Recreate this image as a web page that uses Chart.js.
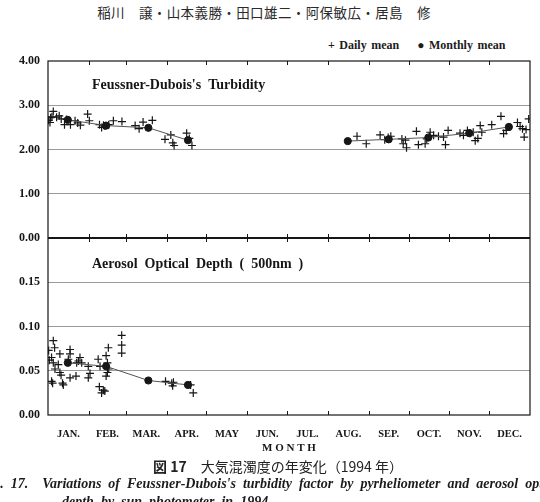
<!DOCTYPE html>
<html>
<head>
<meta charset="utf-8">
<script src="https://cdn.jsdelivr.net/npm/chart.js@4.4.0/dist/chart.umd.min.js"></script>
<style>
  body { margin: 0; width: 540px; height: 502px; overflow: hidden; background: #fff; position: relative; color: #1c1c1c; font-family: "Liberation Serif", serif; }
  .abs { position: absolute; white-space: nowrap; }
  #header { top: 2px; left: 0; width: 528px; text-align: center; font-family: "Noto Sans CJK JP", sans-serif; font-size: 13.5px; letter-spacing: 0.4px; color: #2a2a2a; }
  #legend { top: 38px; left: 328px; font-weight: bold; font-size: 12px; word-spacing: 1.5px; }
  #chart-box { top: 0; left: 0; width: 540px; height: 460px; }
  #caption { top: 456px; left: 8px; width: 540px; text-align: center; font-family: "Noto Sans CJK JP", sans-serif; font-size: 14px; color: #222; }
  #caption-en { top: 476px; left: -20px; font-style: italic; font-weight: bold; font-size: 14px; word-spacing: 3.5px; }
  #caption-en2 { top: 494px; left: 62px; font-style: italic; font-weight: bold; font-size: 14px; word-spacing: 3.5px; }
</style>
</head>
<body>
<div id="header" class="abs">稲川　譲・山本義勝・田口雄二・阿保敏広・居島　修</div>
<div id="legend" class="abs">+ Daily mean &nbsp;&nbsp; ● Monthly mean</div>
<div id="chart-box" class="abs"><canvas id="chart"></canvas></div>
<div id="caption" class="abs"><b>図 17</b>　大気混濁度の年変化（1994 年）</div>
<div id="caption-en" class="abs">Fig. 17.&nbsp; Variations of Feussner-Dubois's turbidity factor by pyrheliometer and aerosol optical</div>
<div id="caption-en2" class="abs">depth by sun photometer in 1994.</div>
<script>
// month names shown under the x axis
var months = ['JAN.', 'FEB.', 'MAR.', 'APR.', 'MAY', 'JUN.', 'JUL.', 'AUG.', 'SEP.', 'OCT.', 'NOV.', 'DEC.'];
// length of each month of 1994
var month_lengths = [31, 28, 31, 30, 31, 30, 31, 31, 30, 31, 30, 31];
// day of year of the monthly means
var month_mid_days = [15, 44, 76, 106, 135, 166, 196, 227, 258, 288, 319, 349];
// monthly mean of the turbidity factor (no data from May to July)
var turbidity_monthly = [2.67, 2.54, 2.49, 2.21, null, null, null, 2.19, 2.23, 2.27, 2.37, 2.51];
// monthly mean of the aerosol optical depth (500nm)
var aod_monthly = [0.059, 0.055, 0.039, 0.034, null, null, null, null, null, null, null, null];

// daily turbidity factor: day of year and value
var turbidity_days = [0.5, 1.5, 2, 3, 4, 6.5, 8.5, 10, 12.5, 14, 17, 20.5, 22.5, 24.5, 30, 31.3, 39, 40.6, 42, 43, 46, 49.5, 56,
    66, 69, 72, 79, 88.6, 93, 94.5, 95.5, 105, 107, 109,
    234, 241, 251.5, 255, 257.6, 259.6, 268, 269, 270.7, 271.5, 279, 280.5, 285.6, 286.8, 288.8, 289.4, 292, 295.7, 299.5, 301, 303,
    312, 314.6, 317.6, 319.7, 322, 323.5, 325.5, 327.3, 328.5, 336, 343, 345, 347, 355.5, 357.5, 359.3, 360.6, 362, 364];
var turbidity_daily = [2.66, 2.61, 2.72, 2.74, 2.86, 2.73, 2.76, 2.69, 2.56, 2.68, 2.56, 2.65, 2.60, 2.55, 2.80, 2.65, 2.56, 2.50, 2.55, 2.53, 2.56, 2.65, 2.63,
    2.54, 2.47, 2.62, 2.66, 2.23, 2.33, 2.15, 2.09, 2.37, 2.25, 2.09,
    2.30, 2.13, 2.33, 2.22, 2.27, 2.30, 2.24, 2.13, 2.21, 2.04, 2.41, 2.11, 2.13, 2.24, 2.30, 2.39, 2.32, 2.30, 2.28, 2.11, 2.43,
    2.37, 2.32, 2.43, 2.37, 2.39, 2.20, 2.25, 2.54, 2.39, 2.56, 2.75, 2.36, 2.43, 2.61, 2.52, 2.47, 2.28, 2.45, 2.69];

// daily aerosol optical depth: day of year and value
var aod_days = [0.5, 1, 2.7, 4, 5, 4, 5.3, 2.7, 3.5, 7.8, 9, 9, 9.9, 11, 11.6, 15.4, 16.7, 16.7, 16.7, 21.2, 21.7, 23, 24.2, 25.5,
    30.5, 31.8, 30.5, 38, 39.4, 38.9, 40.6, 41.9, 43, 44, 45, 45.7, 45, 44, 46, 55.8, 55.8, 55.8,
    89, 93.7, 94.4, 95, 108, 110];
var aod_daily = [0.073, 0.062, 0.065, 0.084, 0.076, 0.059, 0.052, 0.038, 0.036, 0.057, 0.069, 0.048, 0.045, 0.036, 0.034, 0.063, 0.074, 0.069, 0.042, 0.044, 0.059, 0.061, 0.065, 0.059,
    0.055, 0.047, 0.042, 0.063, 0.055, 0.032, 0.025, 0.028, 0.027, 0.067, 0.059, 0.076, 0.048, 0.044, 0.052, 0.090, 0.079, 0.070,
    0.038, 0.036, 0.033, 0.037, 0.034, 0.025];

// tick values of the two panels
var turbidity_ticks = [0, 1, 2, 3, 4];
var aod_ticks = [0, 0.05, 0.10, 0.15, 0.20];
// titles written inside the panels
var turbidity_title = "Feussner-Dubois's  Turbidity";
var aod_title = 'Aerosol  Optical  Depth  (  500nm  )';

// function that joins two arrays into {x, y} points
function toPoints(xs, ys) {
    var points = [];
    for (var i = 0; i < xs.length; i++) {
        points.push({ x: xs[i], y: ys[i] });
    }
    return points;
}

// get month boundaries (day of year) and the centre of each month
var month_starts = [0];
for (var i = 0; i < month_lengths.length; i++) {
    month_starts.push(month_starts[i] + month_lengths[i]);
}
var month_centres = [];
for (var j = 0; j < months.length; j++) {
    month_centres.push((month_starts[j] + month_starts[j + 1]) / 2);
}

var ink = '#161616';
var label_font = { family: 'Liberation Serif', weight: 'bold', size: 12 };

// plugin that draws the frame, the divider, the month ticks and the panel titles
var framePlugin = {
    id: 'frame',
    afterDatasetsDraw: function(chart) {
        var ctx = chart.ctx;
        var area = chart.chartArea;
        var mid = chart.scales.yTop.getPixelForValue(0);
        ctx.save();
        ctx.strokeStyle = ink;
        ctx.lineWidth = 1.2;
        ctx.strokeRect(area.left, area.top, area.right - area.left, area.bottom - area.top);
        ctx.lineWidth = 1.8;
        ctx.beginPath();
        ctx.moveTo(area.left, mid);
        ctx.lineTo(area.right, mid);
        ctx.stroke();
        // small inward ticks on month boundaries
        ctx.lineWidth = 1;
        for (var k = 1; k < month_starts.length - 1; k++) {
            var x = Math.round(chart.scales.x.getPixelForValue(month_starts[k])) + 0.5;
            ctx.beginPath();
            ctx.moveTo(x, area.top); ctx.lineTo(x, area.top + 4);
            ctx.moveTo(x, mid - 4); ctx.lineTo(x, mid + 4);
            ctx.moveTo(x, area.bottom - 4); ctx.lineTo(x, area.bottom);
            ctx.stroke();
        }
        // panel titles
        ctx.fillStyle = ink;
        ctx.font = 'bold 14px "Liberation Serif"';
        ctx.textBaseline = 'middle';
        ctx.fillText(turbidity_title, 92, area.top + 24);
        ctx.fillText(aod_title, 92, mid + 26);
        ctx.restore();
    }
};

// function that returns the dotted grid colour (panel edges are drawn by the frame)
function gridColor(max) {
    return function(c) {
        if (c.tick.value === 0 || c.tick.value === max) {
            return 'rgba(0,0,0,0)';
        }
        return '#9a9a9a';
    };
}

var ctx = document.getElementById('chart').getContext('2d');
var chart = new Chart(ctx, {
    type: 'scatter',
    data: {
        datasets: [
            {
                label: 'Monthly mean',
                type: 'line',
                yAxisID: 'yTop',
                data: toPoints(month_mid_days, turbidity_monthly),
                borderColor: '#555',
                borderWidth: 1,
                pointStyle: 'circle',
                pointRadius: 3.6,
                pointBackgroundColor: ink,
                pointBorderColor: ink,
                spanGaps: false
            },
            {
                label: 'Daily mean',
                yAxisID: 'yTop',
                data: toPoints(turbidity_days, turbidity_daily),
                pointStyle: 'cross',
                pointRadius: 4,
                borderColor: ink,
                borderWidth: 1.2
            },
            {
                label: 'Monthly mean',
                type: 'line',
                yAxisID: 'yBot',
                data: toPoints(month_mid_days, aod_monthly),
                borderColor: '#555',
                borderWidth: 1,
                pointStyle: 'circle',
                pointRadius: 3.6,
                pointBackgroundColor: ink,
                pointBorderColor: ink,
                spanGaps: false
            },
            {
                label: 'Daily mean',
                yAxisID: 'yBot',
                data: toPoints(aod_days, aod_daily),
                pointStyle: 'cross',
                pointRadius: 4,
                borderColor: ink,
                borderWidth: 1.2
            }
        ]
    },
    options: {
        animation: false,
        responsive: true,
        maintainAspectRatio: false,
        layout: { padding: { top: 61, right: 10, left: 0, bottom: 0 } },
        plugins: {
            legend: { display: false },
            tooltip: { enabled: false }
        },
        scales: {
            x: {
                type: 'linear',
                min: 0,
                max: 365,
                grid: { display: false },
                border: { display: false },
                afterBuildTicks: function(scale) {
                    scale.ticks = month_centres.map(function(v) { return { value: v }; });
                },
                afterFit: function(scale) { scale.height = 45; },
                ticks: {
                    autoSkip: false,
                    maxRotation: 0,
                    padding: 5,
                    color: ink,
                    font: { family: 'Liberation Serif', weight: 'bold', size: 10.5 },
                    callback: function(value, index) { return months[index]; }
                },
                title: {
                    display: true,
                    text: 'M O N T H',
                    color: ink,
                    font: { family: 'Liberation Serif', weight: 'bold', size: 11 },
                    padding: { top: 0, bottom: 5 }
                }
            },
            yBot: {
                type: 'linear',
                position: 'left',
                stack: 'panels',
                stackWeight: 1,
                min: 0,
                max: 0.2,
                afterBuildTicks: function(scale) {
                    scale.ticks = aod_ticks.map(function(v) { return { value: v }; });
                },
                afterFit: function(scale) { scale.width = 48; },
                border: { display: false },
                grid: { drawTicks: false, color: gridColor(0.2), borderDash: [1, 2.5], lineWidth: 1 },
                ticks: {
                    padding: 8,
                    color: ink,
                    font: label_font,
                    callback: function(value) { return value >= 0.2 ? '' : value.toFixed(2); }
                }
            },
            yTop: {
                type: 'linear',
                position: 'left',
                stack: 'panels',
                stackWeight: 1,
                min: 0,
                max: 4,
                afterBuildTicks: function(scale) {
                    scale.ticks = turbidity_ticks.map(function(v) { return { value: v }; });
                },
                afterFit: function(scale) { scale.width = 48; },
                border: { display: false },
                grid: { drawTicks: false, color: gridColor(4), borderDash: [1, 2.5], lineWidth: 1 },
                ticks: {
                    padding: 8,
                    color: ink,
                    font: label_font,
                    callback: function(value) { return value.toFixed(2); }
                }
            }
        }
    },
    plugins: [framePlugin]
});
</script>
</body>
</html>
